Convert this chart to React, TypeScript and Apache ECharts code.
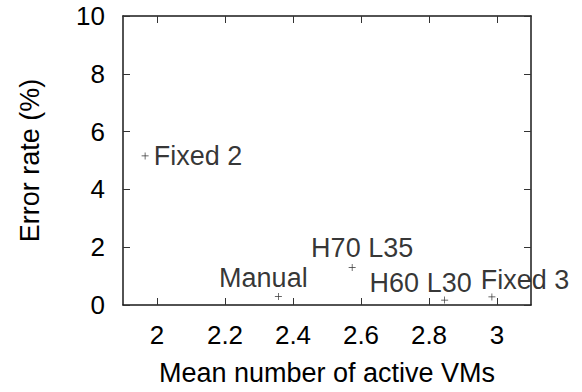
import React, { useEffect, useRef } from "react";
import * as echarts from "echarts";

const pointNames = ["Fixed 2", "Manual", "H70 L35", "H60 L30", "Fixed 3"];
const meanVMs = [1.965, 2.357, 2.574, 2.846, 2.985];
const errorRates = [5.16, 0.29, 1.3, 0.17, 0.28];
const xTicks = [2, 2.2, 2.4, 2.6, 2.8, 3];
const labelOffsets: number[][] = [
  [53, 0],
  [-15, -19],
  [10, -19],
  [-24, -17],
  [33, -17],
];

const FONT = "'Liberation Sans', Arial, Helvetica, sans-serif";
const FS = 27;
const TFS = 26;

export default function App() {
  const ref = useRef<HTMLDivElement>(null);
  useEffect(() => {
    if (!ref.current) return;
    const chart = echarts.init(ref.current, null, { renderer: "svg" });
    const fmt = (v: number) => String(+Number(v).toFixed(1));
    const lineStyle = { color: "#1a1a1a", width: 1.5 };
    const tickStyle = { color: "#333", width: 1 };
    const baseX = {
      type: "value" as const,
      min: 1.9,
      max: 3.1,
      splitLine: { show: false },
      axisLine: { show: true, onZero: false, lineStyle },
    };
    const baseY = {
      type: "value" as const,
      min: 0,
      max: 10,
      interval: 2,
      splitLine: { show: false },
      axisLine: { show: true, onZero: false, lineStyle },
    };
    chart.setOption({
      animation: false,
      backgroundColor: "#fff",
      grid: { left: 123, right: 51, top: 16, bottom: 87 },
      textStyle: { fontFamily: FONT },
      xAxis: [
        {
          ...baseX,
          position: "bottom",
          name: "Mean number of active VMs",
          nameLocation: "middle",
          nameGap: 54,
          nameTextStyle: { fontSize: FS, color: "#000", fontFamily: FONT },
          axisTick: { show: true, inside: true, length: 7, lineStyle: tickStyle, customValues: xTicks },
          axisLabel: {
            show: true,
            customValues: xTicks,
            margin: 17,
            fontSize: TFS,
            color: "#000",
            fontFamily: FONT,
            formatter: fmt,
          },
        },
        {
          ...baseX,
          position: "top",
          axisTick: { show: true, inside: true, length: 7, lineStyle: tickStyle, customValues: xTicks },
          axisLabel: { show: false },
        },
      ],
      yAxis: [
        {
          ...baseY,
          position: "left",
          name: "Error rate (%)",
          nameLocation: "middle",
          nameGap: 80,
          nameRotate: 90,
          nameTextStyle: { fontSize: FS, color: "#000", fontFamily: FONT },
          axisTick: { show: true, inside: true, length: 7, lineStyle: tickStyle },
          axisLabel: { show: true, margin: 18, fontSize: TFS, color: "#000", fontFamily: FONT, formatter: fmt },
        },
        {
          ...baseY,
          position: "right",
          axisTick: { show: true, inside: true, length: 7, lineStyle: tickStyle },
          axisLabel: { show: false },
        },
      ],
      series: [
        {
          type: "scatter",
          xAxisIndex: 0,
          yAxisIndex: 0,
          symbol: "path://M-0.1,-1 L0.1,-1 L0.1,-0.1 L1,-0.1 L1,0.1 L0.1,0.1 L0.1,1 L-0.1,1 L-0.1,0.1 L-1,0.1 L-1,-0.1 L-0.1,-0.1 Z",
          symbolSize: 7,
          itemStyle: { color: "#000" },
          data: meanVMs.map((x, i) => ({
            value: [x, errorRates[i]],
            name: pointNames[i],
            label: {
              show: true,
              position: "inside",
              offset: labelOffsets[i],
              formatter: pointNames[i],
              fontSize: FS,
              color: "#000",
              fontFamily: FONT,
            },
          })),
        },
      ],
    });
    return () => chart.dispose();
  }, []);
  return (
    <div
      ref={ref}
      style={{ position: "fixed", left: 0, top: 0, width: 582, height: 392 }}
    />
  );
}
